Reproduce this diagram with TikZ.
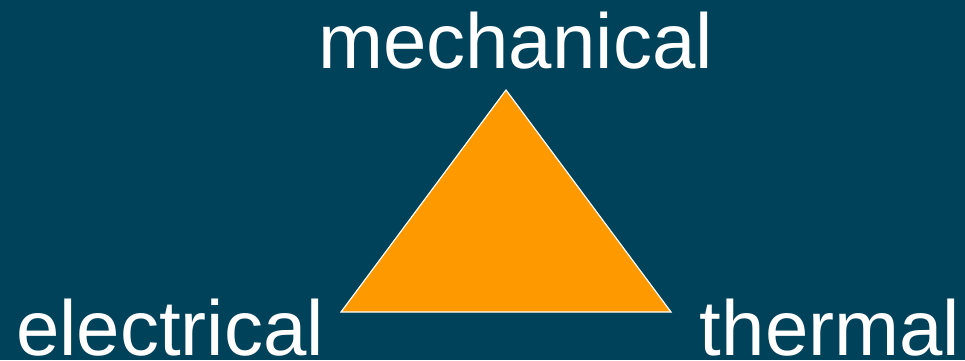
\documentclass[tikz,border=0pt]{standalone}
\usepackage{fontspec}
\setmainfont{Liberation Sans}
\definecolor{bg}{RGB}{0,66,89}
\definecolor{tri}{RGB}{255,153,0}
\begin{document}
\begin{tikzpicture}[x=1pt,y=-1pt,
  lbl/.style={text=white,font=\fontsize{78}{88}\selectfont,inner sep=0pt,text depth=0pt,anchor=base}]
\fill[bg] (0,0) rectangle (965,360);
\useasboundingbox (0,0) rectangle (965,360);
\coordinate (t) at (506,90);
\coordinate (l) at (341,312);
\coordinate (r) at (671,312);
\filldraw[fill=tri,draw=white,line width=1.2pt,line join=miter] (t) -- (l) -- (r) -- cycle;
\node[lbl] (mech) at (515.5,68) {mechanical};
\node[lbl] (elec) at (170,355) {electrical};
\node[lbl] (therm) at (830,355) {thermal};
\end{tikzpicture}
\end{document}
